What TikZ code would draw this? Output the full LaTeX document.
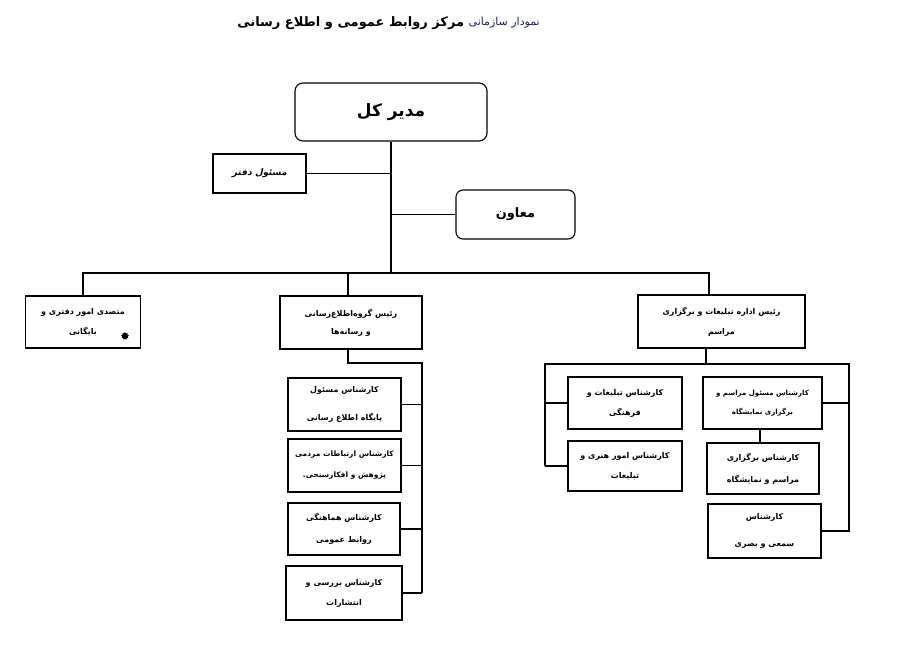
\documentclass[tikz,border=0pt]{standalone}
\usepackage{fontspec}
\usepackage{xcolor}
\usetikzlibrary{shapes.geometric}
\TeXXeTstate=1
\newfontfamily\farsi[Script=Arabic]{DejaVu Sans}
\newfontfamily\farsislant[Script=Arabic,FakeSlant=0.2]{DejaVu Sans}
\newcommand{\fa}[1]{{\farsi\beginR #1\endR}}
\definecolor{titleblue}{RGB}{25,35,90}
\tikzset{
sbox/.style={draw, line width=1.1pt, align=center, inner sep=0pt, font=\bfseries\fontsize{8}{10}\selectfont},
rbox/.style={draw, line width=1.1pt, rounded corners=8pt, align=center, inner sep=0pt},
link/.style={line width=1.1pt}
}
\begin{document}
\begin{tikzpicture}[x=1pt, y=-1pt]
\useasboundingbox (0,0) rectangle (917,661);
% title
\node[anchor=east, inner sep=0pt, text=titleblue, font=\fontsize{11}{13}\selectfont] (titlea) at (540,23) {\fa{نمودار سازمانی}};
\node[anchor=east, inner sep=0pt, font=\bfseries\fontsize{13}{15}\selectfont] (titleb) at ([xshift=-4]titlea.west) {\fa{مرکز روابط عمومی و اطلاع رسانی}};
% top level
\node[rbox, minimum width=192, minimum height=58, font=\bfseries\fontsize{17}{20}\selectfont] (gm) at (391,112) {\fa{مدیر کل}};
\node[sbox, minimum width=93, minimum height=39] (office) at (259.5,173.5) {{\farsislant\bfseries\fontsize{9}{11}\selectfont\beginR مسئول دفتر\endR}};
\node[rbox, rounded corners=7pt, minimum width=119, minimum height=49, font=\bfseries\fontsize{13}{15}\selectfont] (deputy) at (515.5,214.5) {\fa{معاون}};
\coordinate (bus) at (391,273);
\draw[link] (gm.south) -- (bus);
\draw[link] (office.east) -- (office.east -| bus);
\draw[link] (deputy.west) -- (deputy.west -| bus);
% second level
\node[sbox, minimum width=115, minimum height=52] (clerk) at (83,322) {\fa{متصدی امور دفتری و}\\[10pt]\fa{بایگانی}};
\node[star, star points=9, star point ratio=1.5, fill=black, inner sep=0pt, minimum size=8] (dot) at (125,336) {};
\node[sbox, minimum width=142, minimum height=53] (infohead) at (351,322.5) {\fa{رئیس گروه‌اطلاع‌رسانی}\\[8pt]\fa{و رسانه‌ها}};
\node[sbox, minimum width=167, minimum height=53] (prhead) at (721.5,321.5) {\fa{رئیس اداره تبلیغات و برگزاری}\\[10pt]\fa{مراسم}};
\draw[link] (clerk.north) |- (bus) -| ([xshift=-12.5]prhead.north);
\draw[link] ([xshift=-3]infohead.north) -- ([xshift=-3]infohead.north |- bus);
% information group
\node[sbox, minimum width=113, minimum height=53] (m1) at (344.5,404.5) {\fa{کارشناس مسئول}\\[18pt]\fa{پایگاه اطلاع رسانی}};
\node[sbox, minimum width=113, minimum height=53, font=\bfseries\fontsize{7.5}{9}\selectfont] (m2) at (344.5,465.5) {\fa{کارشناس ارتباطات مردمی}\\[12pt]\fa{پژوهش و افکارسنجی.}};
\node[sbox, minimum width=112, minimum height=52] (m3) at (344,529) {\fa{کارشناس هماهنگی}\\[12pt]\fa{روابط عمومی}};
\node[sbox, minimum width=116, minimum height=54] (m4) at (344,593) {\fa{کارشناس بررسی و}\\[10pt]\fa{انتشارات}};
\coordinate (mbus) at (422,363);
\draw[link] ([xshift=-3]infohead.south) |- (mbus) -- (mbus |- m4.east);
\foreach \m in {m1,m2,m3,m4}
\draw[link] (\m.east) -- (\m.east -| mbus);
% publicity department
\node[sbox, minimum width=114, minimum height=52] (rA) at (625,403) {\fa{کارشناس تبلیغات و}\\[10pt]\fa{فرهنگی}};
\node[sbox, minimum width=114, minimum height=50] (rB) at (625,466) {\fa{کارشناس امور هنری و}\\[10pt]\fa{تبلیغات}};
\node[sbox, minimum width=119, minimum height=52, font=\bfseries\fontsize{7}{9}\selectfont] (rC) at (762.5,403) {\fa{کارشناس مسئول مراسم و}\\[10pt]\fa{برگزاری نمایشگاه}};
\node[sbox, minimum width=112, minimum height=51] (rD) at (763,468.5) {\fa{کارشناس برگزاری}\\[12pt]\fa{مراسم و نمایشگاه}};
\node[sbox, minimum width=113, minimum height=54] (rE) at (764.5,531) {\fa{کارشناس}\\[17pt]\fa{سمعی و بصری}};
\coordinate (rl) at (545,364);
\coordinate (rr) at (849,364);
\draw[link] ([xshift=-15.5]prhead.south) -- ([xshift=-15.5]prhead.south |- rl);
\draw[link] (rl |- rB.west) -- (rl) -- (rr) -- (rr |- rE.east) -- (rE.east);
\draw[link] (rA.west) -- (rA.west -| rl);
\draw[link] (rB.west) -- (rB.west -| rl);
\draw[link] (rC.east) -- (rC.east -| rr);
\draw[link] ([xshift=-2.5]rC.south) -- ([xshift=-2.5]rC.south |- rD.north);
\end{tikzpicture}
\end{document}
